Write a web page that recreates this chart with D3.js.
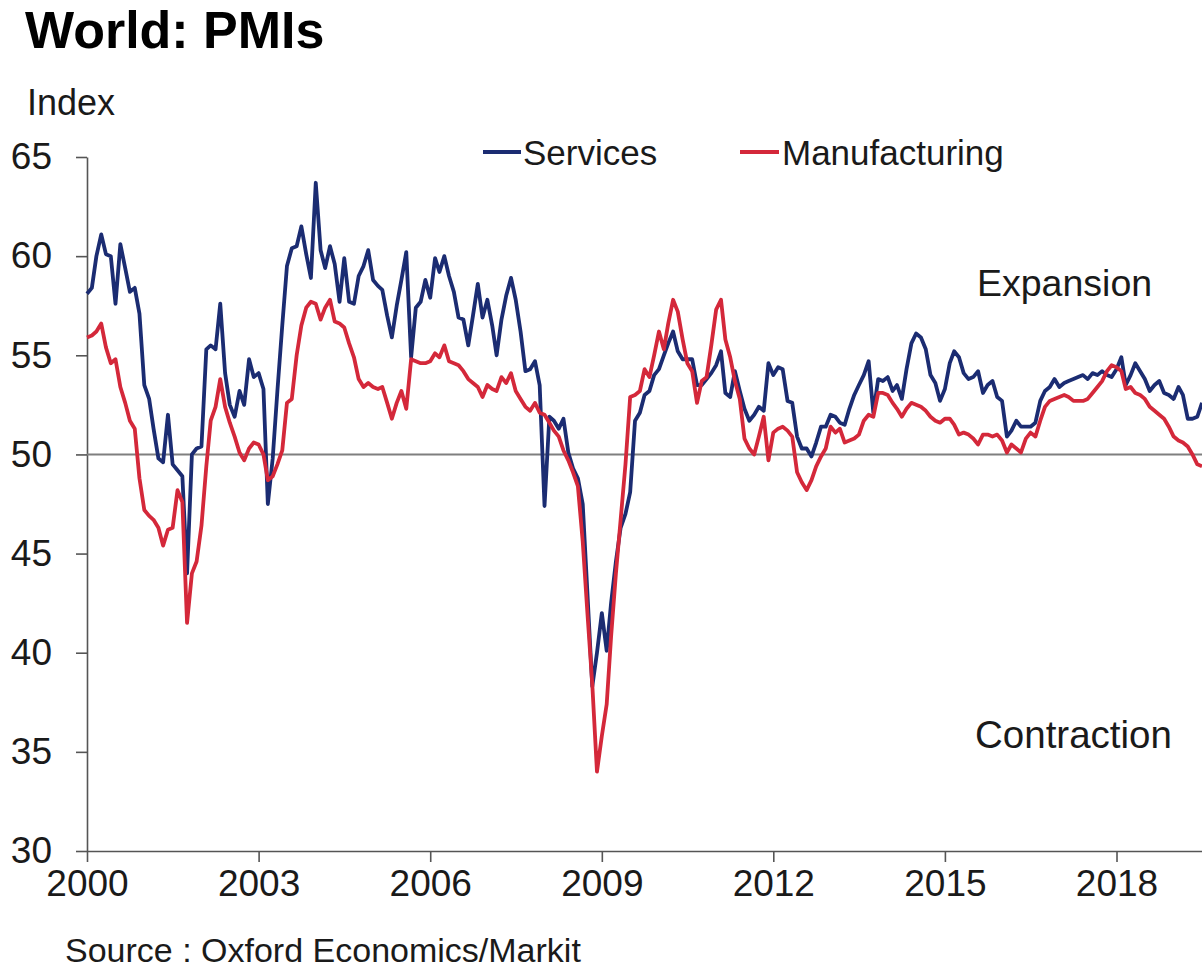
<!DOCTYPE html>
<html>
<head>
<meta charset="utf-8">
<script src="https://cdn.jsdelivr.net/npm/d3@7"></script>
<style>
  body { margin: 0; background: #fff; }
  text { font-family: "Liberation Sans", Arial, sans-serif; fill: #1a1a1a; }
</style>
</head>
<body>
<div id="chart-container"></div>
<script>
// monthly values, Jan 2000 onwards
const services = [
  58.1, 58.4, 60.0, 61.1, 60.1, 60.0, 57.6, 60.6, 59.4, 58.2, 58.4, 57.1,
  53.5, 52.8, 51.3, 49.8, 49.6, 52.0, 49.5, 49.2, 48.9, 44.0, 50.0, 50.3,
  50.4, 55.3, 55.5, 55.3, 57.6, 54.1, 52.5, 51.9, 53.2, 52.5, 54.8, 53.9,
  54.1, 53.3, 47.5, 49.8, 53.2, 56.5, 59.5, 60.4, 60.5, 61.5, 60.1, 58.9,
  63.7, 60.3, 59.4, 60.5, 59.6, 57.7, 59.9, 57.7, 57.6, 59.0, 59.5, 60.3,
  58.8, 58.5, 58.3, 57.0, 55.9, 57.5, 58.8, 60.2, 54.9, 57.4, 57.7, 58.8,
  57.9, 59.9, 59.2, 60.0, 59.0, 58.2, 56.9, 56.8, 55.5, 57.0, 58.6, 56.9,
  57.8, 56.5, 55.0, 56.8, 58.0, 58.9, 57.8, 56.2, 54.2, 54.3, 54.7, 53.5,
  47.4, 51.9, 51.7, 51.3, 51.8, 50.1, 49.3, 48.8, 47.5, 43.0, 38.3, 40.0,
  42.0, 40.1, 42.5, 44.6, 46.3, 47.0, 48.1, 51.7, 52.1, 53.0, 53.2, 54.0,
  54.3, 55.0, 55.6, 56.2, 55.2, 54.8, 54.8, 54.8, 53.5, 53.5, 53.8, 54.1,
  54.5, 55.2, 53.1, 52.9, 54.2, 53.2, 52.3, 51.7, 52.0, 52.4, 52.2, 54.6,
  54.0, 54.4, 54.3, 52.7, 52.6, 50.9, 50.3, 50.3, 49.9, 50.6, 51.4, 51.4,
  52.0, 51.9, 51.6, 51.5, 52.3, 53.0, 53.5, 54.0, 54.7, 52.1, 53.8, 53.7,
  53.9, 53.2, 53.5, 52.8, 54.3, 55.6, 56.1, 55.9, 55.3, 54.0, 53.6, 52.7,
  53.3, 54.6, 55.2, 54.9, 54.1, 53.8, 53.9, 54.2, 53.1, 53.5, 53.7, 52.9,
  52.7, 50.9, 51.2, 51.7, 51.4, 51.4, 51.4, 51.6, 52.7, 53.2, 53.4, 53.8,
  53.4, 53.6, 53.7, 53.8, 53.9, 54.0, 53.8, 54.1, 54.0, 54.2, 54.0, 53.9,
  54.3, 54.9, 53.5, 54.0, 54.6, 54.2, 53.8, 53.2, 53.5, 53.7, 53.1, 53.0,
  52.8, 53.4, 53.0, 51.8, 51.8, 51.9, 52.6
];

const manufacturing = [
  55.9, 56.0, 56.2, 56.6, 55.4, 54.6, 54.8, 53.4, 52.6, 51.7, 51.3, 48.8,
  47.2, 46.9, 46.7, 46.3, 45.4, 46.2, 46.3, 48.2, 47.6, 41.5, 44.0, 44.6,
  46.4, 49.4, 51.7, 52.4, 53.8, 52.4, 51.6, 50.9, 50.1, 49.7, 50.3, 50.6,
  50.5, 50.0, 48.7, 48.9, 49.5, 50.2, 52.6, 52.8, 55.0, 56.5, 57.4, 57.7,
  57.6, 56.8, 57.4, 57.8, 56.7, 56.6, 56.4, 55.6, 54.9, 53.8, 53.4, 53.6,
  53.4, 53.3, 53.4, 52.6, 51.8, 52.6, 53.2, 52.3, 54.8, 54.7, 54.6, 54.6,
  54.7, 55.1, 54.9, 55.5, 54.7, 54.6, 54.5, 54.2, 53.8, 53.6, 53.4, 52.9,
  53.5, 53.3, 53.2, 53.9, 53.6, 54.1, 53.2, 52.8, 52.4, 52.2, 52.6, 52.1,
  52.0, 51.6, 51.2, 50.9, 50.2, 49.7, 49.1, 48.4, 45.6, 42.0, 38.4, 34.0,
  35.8, 37.4, 40.8, 44.0, 46.7, 49.5, 52.9, 53.0, 53.2, 54.3, 53.9, 55.0,
  56.2, 55.3, 56.6, 57.8, 57.2, 55.8, 54.6, 54.2, 52.6, 53.7, 53.9, 55.5,
  57.3, 57.8, 55.8, 54.9, 53.7, 52.8, 50.8, 50.3, 50.0, 50.9, 51.9, 49.7,
  51.1, 51.3, 51.4, 51.2, 50.9, 49.1, 48.6, 48.2, 48.7, 49.4, 49.9, 50.3,
  51.4, 51.1, 51.3, 50.6, 50.7, 50.8, 51.0, 51.7, 52.0, 51.9, 53.1, 53.1,
  53.0, 52.6, 52.3, 51.9, 52.3, 52.6, 52.5, 52.4, 52.2, 51.9, 51.7, 51.6,
  51.8, 51.8, 51.5, 51.0, 51.1, 51.0, 50.8, 50.5, 51.0, 51.0, 50.9, 51.0,
  50.7, 50.1, 50.5, 50.3, 50.1, 50.8, 51.1, 50.9, 51.7, 52.4, 52.7, 52.8,
  52.9, 53.0, 52.9, 52.7, 52.7, 52.7, 52.8, 53.1, 53.4, 53.7, 54.2, 54.5,
  54.4, 54.2, 53.3, 53.4, 53.1, 53.0, 52.8, 52.4, 52.2, 52.0, 51.8, 51.4,
  50.9, 50.7, 50.6, 50.4, 50.0, 49.5, 49.4
];

const yearTicks = [2000, 2003, 2006, 2009, 2012, 2015, 2018];
const yTicks = [30, 35, 40, 45, 50, 55, 60, 65];

const width = 1202;
const height = 970;
const margin = { top: 157, right: 0, bottom: 119, left: 87 };

const dates = services.map((d, i) => new Date(2000, i, 1));

const svg = d3.select("#chart-container")
  .append("svg")
  .attr("width", width)
  .attr("height", height);

const x = d3.scaleTime()
  .domain([new Date(2000, 0, 1), new Date(2019, 6, 1)])
  .range([margin.left, width - margin.right]);

const y = d3.scaleLinear()
  .domain([30, 65])
  .range([height - margin.bottom, margin.top]);

// axes
const xAxis = svg.append("g")
  .attr("transform", `translate(0,${height - margin.bottom})`)
  .call(d3.axisBottom(x)
    .tickValues(yearTicks.map(yr => new Date(yr, 0, 1)))
    .tickFormat(d3.timeFormat("%Y"))
    .tickSize(11)
    .tickSizeOuter(0));

xAxis.selectAll("text")
  .attr("dy", "0.71em")
  .attr("y", 19)
  .style("font-size", "37px");

const yAxis = svg.append("g")
  .attr("transform", `translate(${margin.left},0)`)
  .call(d3.axisLeft(y)
    .tickValues(yTicks)
    .tickSize(11)
    .tickSizeOuter(0));

yAxis.selectAll("text")
  .attr("x", -35)
  .style("font-size", "37px");

svg.selectAll(".domain, .tick line")
  .attr("stroke", "#555")
  .attr("stroke-width", 1.6);

// 50 line
svg.append("line")
  .attr("x1", x.range()[0])
  .attr("x2", x.range()[1])
  .attr("y1", y(50))
  .attr("y2", y(50))
  .attr("stroke", "#7f7f7f")
  .attr("stroke-width", 2);

const line = vals => d3.line()
  .x((d, i) => x(dates[i]))
  .y(d => y(d))(vals);

svg.append("path")
  .attr("fill", "none")
  .attr("stroke", "#1b2c72")
  .attr("stroke-width", 3.8)
  .attr("stroke-linejoin", "round")
  .attr("d", line(services));

svg.append("path")
  .attr("fill", "none")
  .attr("stroke", "#d4283a")
  .attr("stroke-width", 3.8)
  .attr("stroke-linejoin", "round")
  .attr("d", line(manufacturing));

// titles
svg.append("text")
  .attr("x", 25)
  .attr("y", 48)
  .style("font-size", "52px")
  .style("font-weight", "bold")
  .style("fill", "#000")
  .text("World: PMIs");

svg.append("text")
  .attr("x", 27)
  .attr("y", 115)
  .style("font-size", "36px")
  .text("Index");

// legend
svg.append("line").attr("x1", 483).attr("x2", 521).attr("y1", 152).attr("y2", 152)
  .attr("stroke", "#1b2c72").attr("stroke-width", 3.8);
svg.append("text").attr("x", 523).attr("y", 165).style("font-size", "35px").text("Services");
svg.append("line").attr("x1", 740).attr("x2", 779).attr("y1", 152).attr("y2", 152)
  .attr("stroke", "#d4283a").attr("stroke-width", 3.8);
svg.append("text").attr("x", 782).attr("y", 165).style("font-size", "35px").text("Manufacturing");

svg.append("text").attr("x", 977).attr("y", 296).style("font-size", "37.5px").text("Expansion");
svg.append("text").attr("x", 975).attr("y", 748).style("font-size", "38.5px").text("Contraction");

svg.append("text")
  .attr("x", 65)
  .attr("y", 962)
  .style("font-size", "34px")
  .text("Source : Oxford Economics/Markit");
</script>
</body>
</html>
